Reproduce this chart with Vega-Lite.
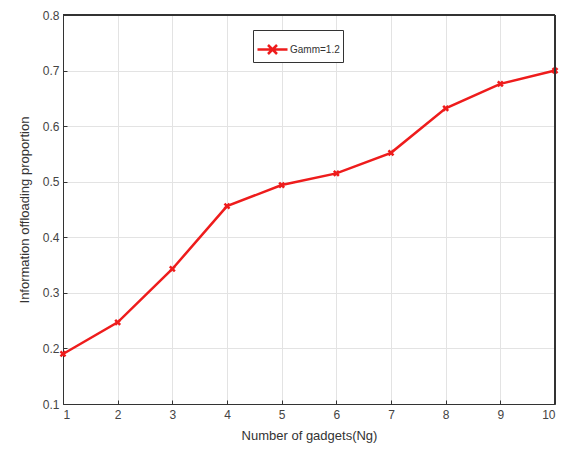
{
  "$schema": "https://vega.github.io/schema/vega-lite/v6.json",
  "width": 492,
  "height": 389,
  "autosize": {"type": "none"},
  "padding": {"left": 63, "top": 15, "right": 11, "bottom": 51},
  "background": "white",
  "config": {
    "view": {"stroke": "#333333", "strokeWidth": 1},
    "font": "Liberation Sans",
    "axis": {
      "labelFont": "Liberation Sans",
      "titleFont": "Liberation Sans",
      "labelColor": "#444444",
      "titleColor": "#333333",
      "labelFontSize": 12,
      "titleFontSize": 13,
      "titleFontWeight": "normal",
      "domainColor": "#333333",
      "tickColor": "#333333",
      "gridColor": "#e3e3e3",
      "gridWidth": 1
    }
  },
  "data": {
    "values": [
      {"Ng": 1, "p": 0.19, "s": "Gamm=1.2"},
      {"Ng": 2, "p": 0.247, "s": "Gamm=1.2"},
      {"Ng": 3, "p": 0.343, "s": "Gamm=1.2"},
      {"Ng": 4, "p": 0.456, "s": "Gamm=1.2"},
      {"Ng": 5, "p": 0.494, "s": "Gamm=1.2"},
      {"Ng": 6, "p": 0.515, "s": "Gamm=1.2"},
      {"Ng": 7, "p": 0.552, "s": "Gamm=1.2"},
      {"Ng": 8, "p": 0.632, "s": "Gamm=1.2"},
      {"Ng": 9, "p": 0.676, "s": "Gamm=1.2"},
      {"Ng": 10, "p": 0.70, "s": "Gamm=1.2"}
    ]
  },
  "encoding": {
    "x": {
      "field": "Ng", "type": "quantitative",
      "scale": {"domain": [1, 10], "nice": false, "zero": false},
      "axis": {"title": "Number of gadgets(Ng)", "values": [1,2,3,4,5,6,7,8,9,10], "tickSize": -4, "labelPadding": 9, "titlePadding": 9, "grid": true}
    },
    "y": {
      "field": "p", "type": "quantitative",
      "scale": {"domain": [0.1, 0.8], "nice": false, "zero": false},
      "axis": {"title": "Information offloading proportion", "values": [0.1,0.2,0.3,0.4,0.5,0.6,0.7,0.8], "format": ".1f", "tickSize": -4, "labelPadding": 8, "titlePadding": 11, "grid": true}
    },
    "color": {
      "field": "s", "type": "nominal",
      "scale": {"range": ["#ee1c1c"]},
      "legend": {
        "title": null,
        "orient": "none",
        "legendX": 190,
        "legendY": 15,
        "direction": "vertical",
        "strokeColor": "#333333",
        "fillColor": "white",
        "padding": 3,
        "labelFontSize": 10,
        "labelColor": "#333333",
        "symbolType": "M-1,0L1,0M-0.3,-0.3L0.3,0.3M0.3,-0.3L-0.3,0.3",
        "symbolSize": 900,
        "symbolStrokeWidth": 2.5,
        "symbolFillColor": "transparent",
        "labelOffset": 1
      }
    }
  },
  "layer": [
    {"mark": {"type": "line", "strokeWidth": 2.5}},
    {"mark": {"type": "point", "shape": "M-1,-1L1,1M1,-1L-1,1", "filled": false, "size": 25, "strokeWidth": 2.5, "opacity": 1}},
    {
      "mark": {"type": "rule", "color": "#333333", "strokeWidth": 1},
      "encoding": {
        "x": {"datum": 10, "type": "quantitative"},
        "y": null, "color": null
      }
    },
    {
      "mark": {"type": "rule", "color": "#333333", "strokeWidth": 1},
      "encoding": {
        "y": {"datum": 0.8, "type": "quantitative"},
        "x": null, "color": null
      }
    }
  ]
}
